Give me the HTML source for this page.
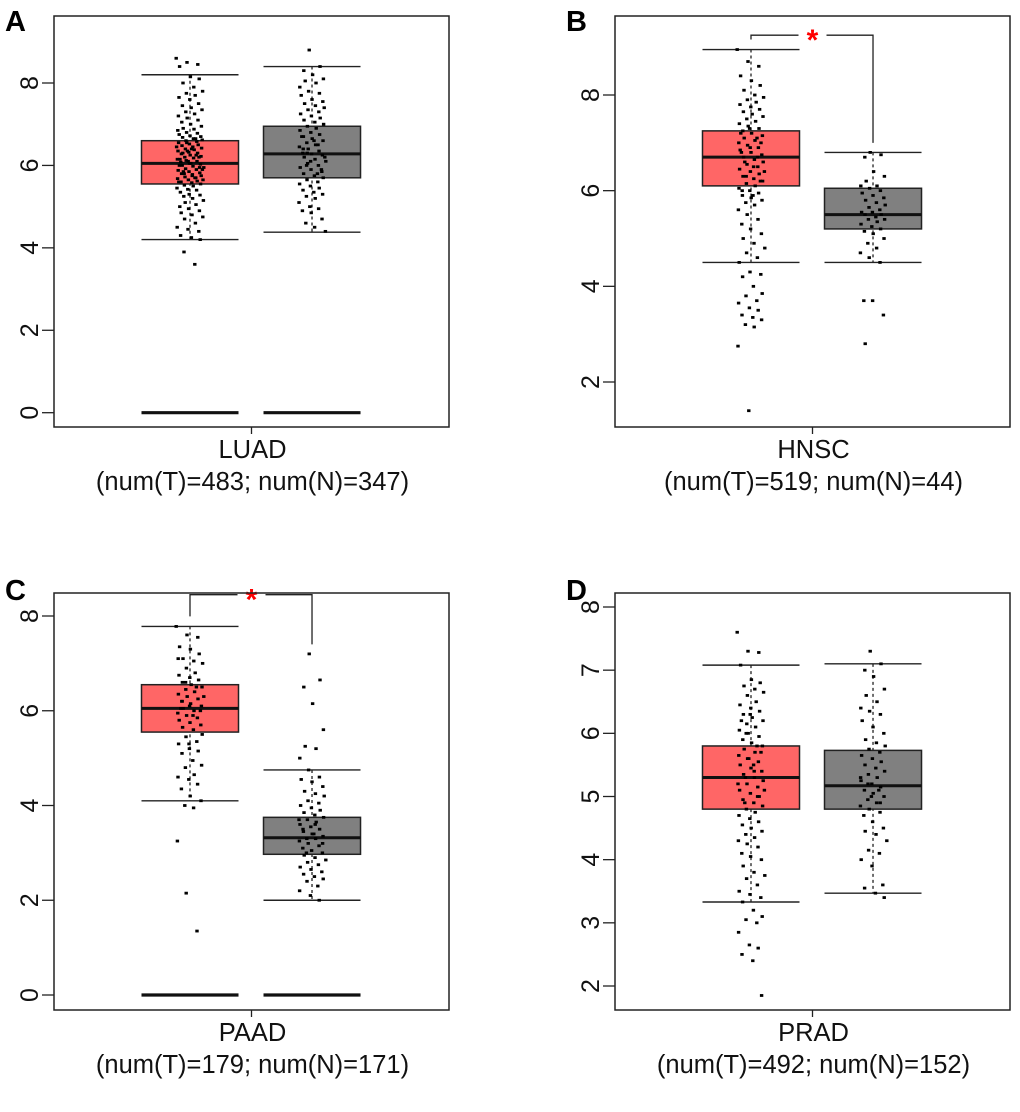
<!DOCTYPE html>
<html><head><meta charset="utf-8"><style>
html,body{margin:0;padding:0;background:#fff;}
svg{display:block;font-family:"Liberation Sans",Arial,sans-serif;}
</style></head><body>
<svg id="fig" width="1020" height="1112" viewBox="0 0 1020 1112"></svg>
<script>
// ---- data ----
const panelLetters = ["A","B","C","D"];
const cancerNames = ["LUAD","HNSC","PAAD","PRAD"];
const sampleLabels = ["(num(T)=483; num(N)=347)","(num(T)=519; num(N)=44)","(num(T)=179; num(N)=171)","(num(T)=492; num(N)=152)"];
const tickValsA = [0,2,4,6,8];
const tickValsB = [2,4,6,8];
const tickValsC = [0,2,4,6,8];
const tickValsD = [2,3,4,5,6,7,8];
// box stats: [lowerWhisker, Q1, median, Q3, upperWhisker]
const tumorStats = [[4.2,5.55,6.05,6.6,8.2],[4.5,6.1,6.7,7.25,8.95],[4.1,5.55,6.05,6.55,7.78],[3.33,4.8,5.3,5.8,7.08]];
const normalStats = [[4.38,5.7,6.28,6.95,8.4],[4.5,5.2,5.5,6.05,6.8],[2.0,2.97,3.32,3.75,4.75],[3.47,4.8,5.17,5.73,7.1]];
const zeroLine = [true,false,true,false];
const significant = [false,true,true,false];
const sigBracketTop = [0,9.25,8.45,0];
const sigNormalEnd = [0,7.0,7.4,0];
const ptsA_T=[8.6,8.5,8.45,8.4,8.15,8.1,8.0,7.9,7.8,7.75,7.7,7.65,7.6,7.5,7.45,7.4,7.35,7.3,7.25,7.2,7.15,7.1,7.05,7.0,6.95,6.9,6.88,6.85,6.8,6.78,6.75,6.72,6.7,6.68,6.65,6.62,6.6,6.58,6.55,6.52,6.5,6.48,6.45,6.42,6.4,6.38,6.35,6.32,6.3,6.28,6.25,6.22,6.2,6.18,6.15,6.12,6.1,6.08,6.05,6.03,6.0,5.98,5.95,5.92,5.9,5.88,5.85,5.82,5.8,5.78,5.75,5.72,5.7,5.68,5.65,5.62,5.6,5.58,5.55,5.52,5.5,5.45,5.42,5.4,5.35,5.3,5.28,5.25,5.2,5.15,5.1,5.05,5.0,4.95,4.9,4.85,4.8,4.75,4.7,4.6,4.5,4.45,4.4,4.3,4.25,4.2,3.9,3.6,6.45,6.35,6.25,6.15,6.05,5.95,5.85,5.75,5.65,6.55,6.65,6.0,6.1,6.2,6.3,6.4,5.9,5.8,5.7,5.6];
const ptsA_N=[8.8,8.4,8.3,8.2,8.1,8.05,8.0,7.9,7.8,7.75,7.7,7.6,7.55,7.5,7.45,7.4,7.35,7.3,7.25,7.2,7.15,7.1,7.05,7.0,6.95,6.9,6.85,6.8,6.75,6.7,6.65,6.6,6.55,6.5,6.45,6.4,6.35,6.3,6.28,6.25,6.2,6.15,6.1,6.05,6.0,5.95,5.9,5.85,5.8,5.75,5.7,5.65,5.6,5.55,5.5,5.45,5.4,5.35,5.3,5.25,5.2,5.1,5.0,4.95,4.9,4.85,4.7,4.6,4.5,4.4,6.3,6.5,6.7,6.1,5.9,6.4,6.6,6.2,6.0,5.8];
const ptsB_T=[8.95,8.7,8.6,8.4,8.3,8.2,8.1,8.0,7.95,7.9,7.85,7.8,7.75,7.7,7.65,7.6,7.55,7.5,7.45,7.4,7.35,7.3,7.25,7.2,7.15,7.1,7.05,7.0,6.95,6.9,6.85,6.8,6.75,6.7,6.65,6.6,6.55,6.5,6.45,6.4,6.35,6.3,6.25,6.2,6.15,6.1,6.05,6.0,5.95,5.9,5.85,5.8,5.75,5.7,5.6,5.5,5.4,5.3,5.2,5.1,5.0,4.9,4.8,4.7,4.6,4.5,4.3,4.25,4.2,4.0,3.85,3.8,3.7,3.65,3.55,3.5,3.4,3.35,3.3,3.2,3.15,2.75,1.4,6.7,6.8,6.9,7.0,6.6,6.5,6.4,6.3,7.1,7.2,7.3,6.2,6.0,5.9];
const ptsB_N=[6.8,6.75,6.7,6.4,6.3,6.2,6.1,6.1,6.05,6.0,5.95,5.9,5.85,5.8,5.75,5.7,5.65,5.6,5.55,5.55,5.5,5.5,5.45,5.4,5.4,5.35,5.3,5.25,5.2,5.15,5.1,5.0,4.9,4.8,4.7,4.6,4.5,3.7,3.7,3.4,2.8];
const ptsC_T=[7.78,7.6,7.55,7.35,7.3,7.2,7.1,7.05,7.0,6.9,6.8,6.75,6.7,6.65,6.6,6.55,6.5,6.45,6.4,6.35,6.3,6.25,6.2,6.15,6.1,6.05,6.0,5.95,5.9,5.85,5.8,5.75,5.7,5.65,5.6,5.5,5.45,5.35,5.3,5.2,5.15,5.1,4.95,4.85,4.8,4.65,4.6,4.55,4.45,4.35,4.2,4.1,4.0,3.95,3.25,2.15,1.35,6.05,6.1,6.0,6.2,5.9,6.3,6.6,6.5,7.1,5.3];
const ptsC_N=[7.2,6.65,6.5,6.15,5.6,5.25,5.2,5.0,4.75,4.6,4.55,4.5,4.4,4.3,4.25,4.2,4.1,4.05,4.0,3.95,3.9,3.85,3.8,3.75,3.7,3.65,3.6,3.55,3.5,3.45,3.4,3.35,3.3,3.3,3.25,3.2,3.15,3.1,3.05,3.0,2.95,2.9,2.85,2.8,2.75,2.7,2.65,2.6,2.55,2.5,2.45,2.4,2.3,2.2,2.1,2.0,3.5,3.4,3.2,3.0,3.6,3.7];
const ptsD_T=[7.6,7.3,7.28,7.08,6.85,6.8,6.75,6.7,6.65,6.6,6.5,6.45,6.4,6.35,6.3,6.25,6.2,6.15,6.1,6.05,6.0,5.95,5.9,5.85,5.8,5.75,5.7,5.65,5.6,5.55,5.5,5.45,5.4,5.35,5.3,5.25,5.2,5.15,5.1,5.05,5.0,4.95,4.9,4.85,4.8,4.75,4.7,4.65,4.6,4.55,4.5,4.45,4.4,4.35,4.3,4.25,4.2,4.1,4.05,4.0,3.9,3.8,3.75,3.7,3.6,3.5,3.45,3.4,3.33,3.2,3.1,3.05,3.0,2.85,2.65,2.6,2.5,2.4,1.85,5.3,5.4,5.2,5.6,5.0,6.2,6.3,5.7,4.9,5.5,5.1,6.0,5.8];
const ptsD_N=[7.3,7.1,7.0,6.9,6.7,6.6,6.5,6.4,6.35,6.3,6.2,6.1,6.0,5.9,5.85,5.8,5.75,5.7,5.65,5.6,5.55,5.5,5.45,5.4,5.35,5.3,5.25,5.2,5.15,5.1,5.05,5.0,4.95,4.9,4.85,4.8,4.75,4.7,4.6,4.5,4.45,4.4,4.3,4.15,4.1,4.0,3.9,3.6,3.55,3.47,3.4,5.2,5.1,5.3,5.0,4.9];
const tumorPts=[ptsA_T,ptsB_T,ptsC_T,ptsD_T];
const normalPts=[ptsA_N,ptsB_N,ptsC_N,ptsD_N];
const tickSets=[tickValsA,tickValsB,tickValsC,tickValsD];
// ---- layout (pixel geometry, not data) ----
const layout=[
 {x0:54,x1:449,y0:16,y1:427,ref:[8,83,0,412.7],ly:31},
 {x0:615,x1:1010,y0:16,y1:427,ref:[8,95,2,382],ly:31},
 {x0:54,x1:449,y0:593,y1:1010,ref:[8,616,0,995],ly:600},
 {x0:615,x1:1010,y0:593,y1:1010,ref:[8,607,2,986],ly:600}
];
const NS="http://www.w3.org/2000/svg";
const svg=document.getElementById('fig');
function mk(tag,attrs,parent){const e=document.createElementNS(NS,tag);for(const k in attrs)e.setAttribute(k,attrs[k]);(parent||svg).appendChild(e);return e;}
for(let p=0;p<4;p++){
 const L=layout[p];
 const yScale=v=>L.ref[1]+(v-L.ref[0])*(L.ref[3]-L.ref[1])/(L.ref[2]-L.ref[0]);
 const g=mk('g',{});
 
 
 const w=L.x1-L.x0, cx=[L.x0+w*0.3443, L.x0+w*0.6532], cmid=(L.x0+L.x1)/2, bw=w*0.2456;
 const lt=mk('text',{x:L.x0-49,y:L.ly,'font-size':29,'font-weight':'bold',fill:'#000'},g);
 lt.textContent=panelLetters[p];
 
 
 tickSets[p].forEach(t=>{
  const y=yScale(t);
  const tk=mk('line',{x1:L.x0-12,x2:L.x0,y1:y,y2:y,stroke:'#222','stroke-width':1.3},g);
  
  
  const tx=mk('text',{x:0,y:0,transform:`translate(${L.x0-16},${y}) rotate(-90)`,'text-anchor':'middle','font-size':25,fill:'#111'},g);
  tx.textContent=t;
  
  
 });
 const stats=[tumorStats[p],normalStats[p]], fills=['#ff6666','#808080'], pts=[tumorPts[p],normalPts[p]];
 for(let k=0;k<2;k++){
  const s=stats[k], c=cx[k];
  const wl=mk('line',{x1:c,x2:c,y1:yScale(s[4]),y2:yScale(s[0]),stroke:'#222','stroke-width':1.3,'stroke-dasharray':'3,3'},g);
  
  
  [s[0],s[4]].forEach(v=>{
   const cap=mk('line',{x1:c-bw*0.5,x2:c+bw*0.5,y1:yScale(v),y2:yScale(v),stroke:'#222','stroke-width':1.4},g);
   
   
  });
  const r=mk('rect',{x:c-bw/2,y:yScale(s[3]),width:bw,height:yScale(s[1])-yScale(s[3]),fill:fills[k],stroke:'#222','stroke-width':1.5},g);
  
  
  const md=mk('line',{x1:c-bw/2,x2:c+bw/2,y1:yScale(s[2]),y2:yScale(s[2]),stroke:'#111','stroke-width':3},g);
  
  
  pts[k].forEach((v,i)=>{
   const jx=((i*37+k*11)%27)-13 + (((i*7)%5)-2)*0.4;
   const d=mk('rect',{x:c+jx-1.7,y:yScale(v)-1.4,width:3.4,height:2.8,fill:'#000'},g);
   
   
  });
  if(zeroLine[p]){
   const z=mk('line',{x1:c-bw/2,x2:c+bw/2,y1:yScale(0),y2:yScale(0),stroke:'#111','stroke-width':3.2},g);
   
   
  }
 }
 if(significant[p]){
  const yt=yScale(sigBracketTop[p]);
  const br=mk('path',{d:`M${cx[0]},${yScale(tumorStats[p][4])-10} V${yt} H${cmid-14} M${cmid+14},${yt} H${cx[1]} V${yScale(sigNormalEnd[p])}`,fill:'none',stroke:'#222','stroke-width':1.3},g);
  
  
  const st=mk('text',{x:cmid,y:yt+15,'text-anchor':'middle','font-size':30,'font-weight':'bold',fill:'#ff0000'},g);
  st.textContent='*';
  
  
 }
 const fr=mk('rect',{x:L.x0,y:L.y0,width:w,height:L.y1-L.y0,fill:'none',stroke:'#222','stroke-width':1.5},g);
 
 
 const xt=mk('line',{x1:cmid,x2:cmid,y1:L.y1,y2:L.y1+7,stroke:'#222','stroke-width':1.3},g);
 
 
 const n1=mk('text',{x:cmid+1,y:L.y1+31,'text-anchor':'middle','font-size':25.5,fill:'#111'},g);
 n1.textContent=cancerNames[p];
 
 
 const n2=mk('text',{x:cmid+1,y:L.y1+63,'text-anchor':'middle','font-size':25.5,fill:'#111'},g);
 n2.textContent=sampleLabels[p];
 
 
}
</script>
</body></html>
